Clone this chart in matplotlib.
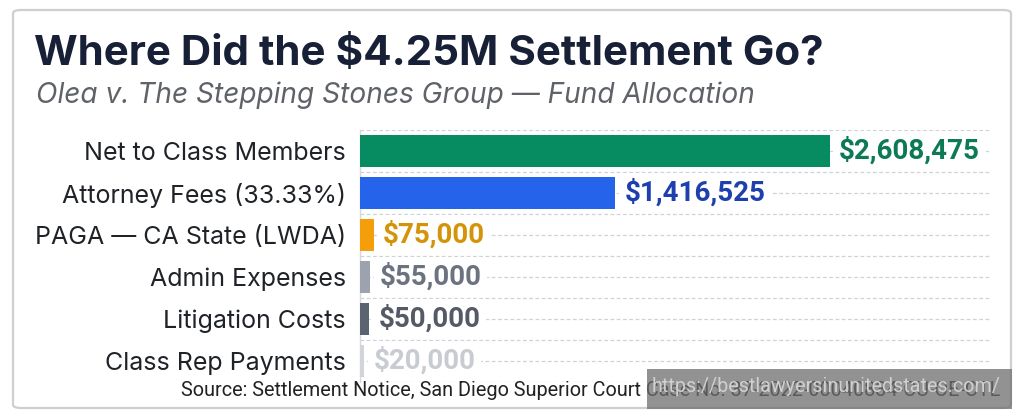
import matplotlib
matplotlib.use("Agg")
import matplotlib.pyplot as plt
from matplotlib.patches import FancyBboxPatch, Rectangle

categories = ["Net to Class Members", "Attorney Fees (33.33%)", "PAGA — CA State (LWDA)",
              "Admin Expenses", "Litigation Costs", "Class Rep Payments"]
values = [2608475, 1416525, 75000, 55000, 50000, 20000]
value_labels = ["$2,608,475", "$1,416,525", "$75,000", "$55,000", "$50,000", "$20,000"]
bar_colors = ["#078c62", "#2563eb", "#f59e0b", "#9ca3af", "#5b6270", "#d1d5db"]
label_colors = ["#0b7a55", "#1e40af", "#d4940a", "#6b7280", "#555b66", "#c8ccd2"]

title = "Where Did the $4.25M Settlement Go?"
subtitle = "Olea v. The Stepping Stones Group — Fund Allocation"
source = "Source: Settlement Notice, San Diego Superior Court Case No. 37-2022-00040834-CU-OE-CTL"
watermark = "https://bestlawyersinunitedstates.com/"

W, H = 1024, 420
fig = plt.figure(figsize=(W / 100, H / 100), dpi=100)
fig.patch.set_facecolor("white")

# card
card = FancyBboxPatch((13 / W, 1 - 408 / H), (1011 - 13) / W, (408 - 10) / H,
                      boxstyle="round,pad=0,rounding_size=0.008",
                      transform=fig.transFigure, facecolor="white",
                      edgecolor="#cfcfcf", linewidth=1.6, zorder=-5)
fig.patches.append(card)

fig.text(34 / W, 1 - 65 / H, title, fontsize=30.3, fontweight="bold",
         color="#172036", family="Inter", va="baseline", ha="left")
fig.text(36 / W, 1 - 103 / H, subtitle, fontsize=20.2, style="italic",
         color="#5f6368", family="Inter", va="baseline", ha="left")

ax = fig.add_axes([360 / W, 1 - 382 / H, (990 - 360) / W, 252 / H])
ax.set_zorder(2)
ax.patch.set_alpha(0)
ypos = list(range(len(categories)))
ax.barh(ypos, values, height=0.76, color=bar_colors, zorder=3)
ax.set_ylim(len(categories) - 0.5, -0.5)
ax.set_xlim(0, 3500000)

ax.set_yticks(ypos)
ax.set_yticklabels(categories, fontsize=18.0, color="#1f2328", family="Inter")
ax.set_yticks([y - 0.5 for y in range(len(categories) + 1)], minor=True)
ax.tick_params(axis="y", which="both", length=0, pad=10)
ax.set_xticks([])
ax.grid(axis="y", which="both", color="#cfd2d6", linestyle=(0, (3, 2)), linewidth=0.9, zorder=0)

for s in ["top", "right", "bottom"]:
    ax.spines[s].set_visible(False)
ax.spines["left"].set_color("#d6d8db")
ax.spines["left"].set_linewidth(1.0)

for y, v, lab, c in zip(ypos, values, value_labels, label_colors):
    ax.annotate(lab, xy=(v, y), xytext=(7, 0), textcoords="offset points",
                va="center", ha="left", fontsize=20.0, fontweight="bold",
                color=c, family="Roboto", zorder=4,
                bbox=dict(boxstyle="square,pad=0.2", facecolor="white", edgecolor="none"))

fig.text(1000 / W, 1 - 390 / H, source, fontsize=14.3, color="#222222",
         family="Roboto", va="center", ha="right", zorder=3)

# watermark overlay
wm_ax = fig.add_axes([647 / W, 1 - 409 / H, (1012 - 647) / W, (409 - 369) / H])
wm_ax.set_zorder(5)
wm_ax.set_axis_off()
wm_ax.add_patch(Rectangle((0, 0), 1, 1, transform=wm_ax.transAxes,
                          facecolor="#6e6e6e", alpha=0.75, edgecolor="none"))
wm_ax.text(0.49, 0.55, watermark, fontsize=14.2, color="#d0d0d0",
           family="Roboto", va="center", ha="center", transform=wm_ax.transAxes)

fig.savefig("out.png", dpi=100, facecolor="white")
